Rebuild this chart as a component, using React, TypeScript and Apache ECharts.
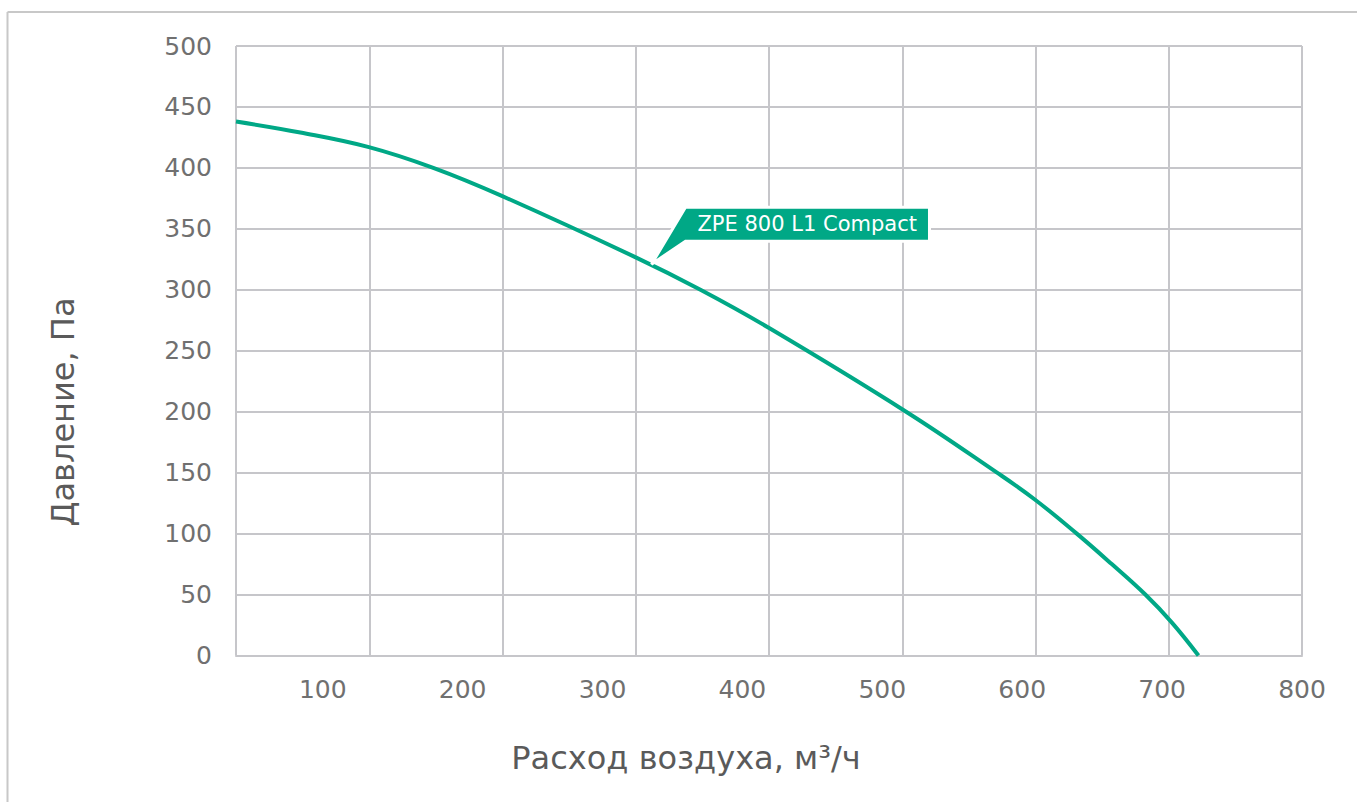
import { useEffect, useRef } from "react";
import * as echarts from "echarts";

// Air flow (m³/h) and pressure (Pa)
const flow = [38, 84, 133, 179, 228, 323, 370, 420, 517, 582, 609, 639, 664, 688, 707, 726];
const pressure = [438, 429, 417, 400, 377, 327, 300, 268, 200, 150, 128, 100, 75, 50, 27, 0];

const xTickLabels = [100, 200, 300, 400, 500, 600, 700, 800];
const xMin = 38;
const xMax = 800;
const yMin = 0;
const yMax = 500;
const yStep = 50;
const gridColumns = 8;

const seriesName = "ZPE 800 L1 Compact";
const labelAnchor = [335, 321];
const xTitle = "Расход воздуха, м³/ч";
const yTitle = "Давление, Па";

const GREEN = "#00a886";
const GRID = "#c6c6ca";
const FONT = "DejaVu Sans";

export default function App() {
  const ref = useRef<HTMLDivElement>(null);

  useEffect(() => {
    document.body.style.margin = "0";
    const chart = echarts.init(ref.current!, undefined, { renderer: "svg" });
    const data = flow.map((x, i) => [x, pressure[i]]);

    chart.setOption({
      animation: false,
      backgroundColor: "#ffffff",
      grid: { left: 236, top: 46, right: 55, bottom: 146.5, containLabel: false },
      xAxis: [
        {
          type: "value",
          min: xMin,
          max: xMax,
          position: "bottom",
          axisLine: { show: true, lineStyle: { color: GRID, width: 2 } },
          axisTick: { show: false },
          splitLine: { show: false },
          axisLabel: {
            customValues: xTickLabels,
            color: "#707070",
            fontFamily: FONT,
            fontSize: 25,
            lineHeight: 26,
            margin: 21,
            showMinLabel: true,
            showMaxLabel: true,
          },
        },
        {
          type: "value",
          min: 0,
          max: gridColumns,
          interval: 1,
          position: "bottom",
          axisLine: { show: false },
          axisTick: { show: false },
          axisLabel: { show: false },
          splitLine: { show: true, lineStyle: { color: GRID, width: 2 } },
        },
      ],
      yAxis: {
        type: "value",
        min: yMin,
        max: yMax,
        interval: yStep,
        axisLine: { show: false },
        axisTick: { show: false },
        splitLine: { show: true, lineStyle: { color: GRID, width: 2 } },
        axisLabel: {
          color: "#707070",
          fontFamily: FONT,
          fontSize: 25,
          margin: 24,
        },
      },
      series: [
        {
          name: seriesName,
          type: "line",
          xAxisIndex: 0,
          yAxisIndex: 0,
          data,
          smooth: 0.4,
          showSymbol: false,
          symbol: "none",
          lineStyle: { color: GREEN, width: 4 },
          z: 3,
        },
      ],
    });

    const tip = chart.convertToPixel({ xAxisIndex: 0, yAxisIndex: 0 }, labelAnchor) as number[];
    const tx = tip[0];
    const ty = tip[1];

    chart.setOption({
      graphic: [
        {
          type: "line",
          shape: { x1: 7.5, y1: 12, x2: 1400, y2: 12 },
          style: { stroke: "#c8c8c8", lineWidth: 2 },
        },
        {
          type: "line",
          shape: { x1: 7.5, y1: 12, x2: 7.5, y2: 900 },
          style: { stroke: "#c8c8c8", lineWidth: 2 },
        },
        {
          type: "text",
          x: 686,
          y: 758,
          style: {
            text: xTitle,
            fill: "#5a5a5a",
            font: `32px "${FONT}"`,
            align: "center",
            verticalAlign: "middle",
          },
        },
        {
          type: "text",
          x: 63,
          y: 412,
          rotation: Math.PI / 2,
          style: {
            text: yTitle,
            fill: "#5a5a5a",
            font: `32px "${FONT}"`,
            align: "center",
            verticalAlign: "middle",
          },
        },
        {
          type: "polygon",
          z: 100,
          shape: {
            points: [
              [tx + 34, ty - 57],
              [tx + 278, ty - 57],
              [tx + 278, ty - 23],
              [tx + 34, ty - 23],
              [tx, ty],
            ],
          },
          style: { fill: GREEN, stroke: "#ffffff", lineWidth: 3 },
        },
        {
          type: "text",
          z: 101,
          x: tx + 46,
          y: ty - 40,
          style: {
            text: seriesName,
            fill: "#ffffff",
            font: `21px "${FONT}"`,
            align: "left",
            verticalAlign: "middle",
          },
        },
      ],
    });

    return () => chart.dispose();
  }, []);

  return <div ref={ref} style={{ width: 1357, height: 802 }} />;
}
